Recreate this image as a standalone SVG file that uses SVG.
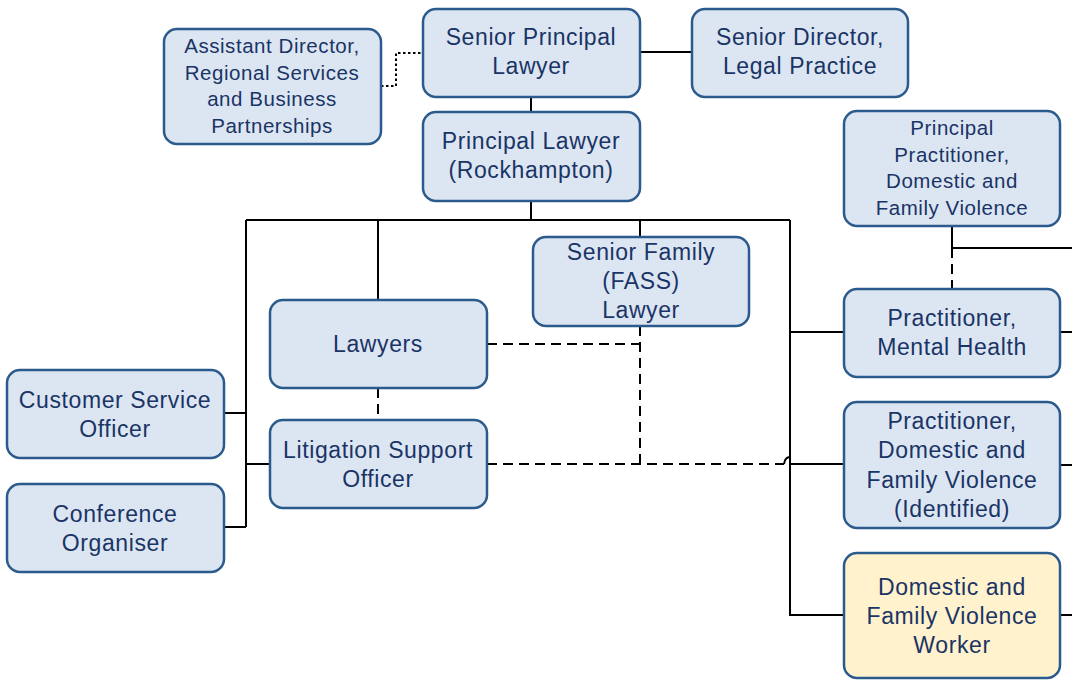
<svg xmlns="http://www.w3.org/2000/svg" width="1072" height="680" viewBox="0 0 1072 680">
<style>
.box{fill:#DCE6F2;stroke:#2B5A8C;stroke-width:2.5}
.yel{fill:#FFF2CC;stroke:#2B5A8C;stroke-width:2.5}
.t{font-family:"Liberation Sans",Arial,sans-serif;font-size:23px;letter-spacing:0.6px;fill:#1A3466;text-anchor:middle}
.s{font-size:20.5px;letter-spacing:0.55px}
.ln{fill:none;stroke:#000;stroke-width:2}
.da{fill:none;stroke:#000;stroke-width:2;stroke-dasharray:10,6}
.dt{fill:none;stroke:#000;stroke-width:2;stroke-dasharray:2.5,2.5}
</style>
<rect width="1072" height="680" fill="#fff"/>
<g id="connectors">
<path class="ln" d="M640,52H692"/>
<path class="dt" d="M381,86H396V53H423"/>
<path class="ln" d="M531,97V112M531,201V220M246,220H790M246,220V527M224,413H246M224,527H246M246,464H270M378,220V300M640,220V237M790,220V615H844M790,332H844M790,464H844"/>
<path class="da" d="M378,388V420M487,344H640M640,326V464M487,464H784"/>
<path class="ln" d="M784,464q1,-7 6,-7"/>
<path class="ln" d="M952,226V248H1072"/>
<path class="da" d="M952,248V289"/>
<path class="ln" d="M1060,332H1072M1060,465H1072M1060,615H1072"/>
</g>
<g id="assistant-director">
<rect class="box" x="164" y="29" width="217" height="115" rx="13"/>
<text class="t s" x="272" y="53">Assistant Director,</text>
<text class="t s" x="272" y="80">Regional Services</text>
<text class="t s" x="272" y="106">and Business</text>
<text class="t s" x="272" y="133">Partnerships</text>
</g>
<g id="senior-principal-lawyer">
<rect class="box" x="423" y="9" width="217" height="88" rx="13"/>
<text class="t" x="531" y="45">Senior Principal</text>
<text class="t" x="531" y="74">Lawyer</text>
</g>
<g id="senior-director">
<rect class="box" x="692" y="9" width="216" height="88" rx="13"/>
<text class="t" x="800" y="45">Senior Director,</text>
<text class="t" x="800" y="74">Legal Practice</text>
</g>
<g id="principal-lawyer">
<rect class="box" x="423" y="112" width="217" height="89" rx="13"/>
<text class="t" x="531" y="149">Principal Lawyer</text>
<text class="t" x="531" y="178">(Rockhampton)</text>
</g>
<g id="principal-practitioner">
<rect class="box" x="844" y="111" width="216" height="115" rx="13"/>
<text class="t s" x="952" y="135">Principal</text>
<text class="t s" x="952" y="162">Practitioner,</text>
<text class="t s" x="952" y="188">Domestic and</text>
<text class="t s" x="952" y="215">Family Violence</text>
</g>
<g id="senior-family-lawyer">
<rect class="box" x="533" y="237" width="216" height="89" rx="13"/>
<text class="t" x="641" y="260">Senior Family</text>
<text class="t" x="641" y="289">(FASS)</text>
<text class="t" x="641" y="318">Lawyer</text>
</g>
<g id="lawyers">
<rect class="box" x="270" y="300" width="217" height="88" rx="13"/>
<text class="t" x="378" y="352">Lawyers</text>
</g>
<g id="litigation-support-officer">
<rect class="box" x="270" y="420" width="217" height="88" rx="13"/>
<text class="t" x="378" y="458">Litigation Support</text>
<text class="t" x="378" y="487">Officer</text>
</g>
<g id="customer-service-officer">
<rect class="box" x="7" y="370" width="217" height="88" rx="13"/>
<text class="t" x="115" y="408">Customer Service</text>
<text class="t" x="115" y="437">Officer</text>
</g>
<g id="conference-organiser">
<rect class="box" x="7" y="484" width="217" height="88" rx="13"/>
<text class="t" x="115" y="522">Conference</text>
<text class="t" x="115" y="551">Organiser</text>
</g>
<g id="practitioner-mental-health">
<rect class="box" x="844" y="289" width="216" height="88" rx="13"/>
<text class="t" x="952" y="326">Practitioner,</text>
<text class="t" x="952" y="355">Mental Health</text>
</g>
<g id="practitioner-dfv-identified">
<rect class="box" x="844" y="402" width="216" height="126" rx="13"/>
<text class="t" x="952" y="429">Practitioner,</text>
<text class="t" x="952" y="458">Domestic and</text>
<text class="t" x="952" y="488">Family Violence</text>
<text class="t" x="952" y="517">(Identified)</text>
</g>
<g id="dfv-worker">
<rect class="yel" x="844" y="553" width="216" height="125" rx="13"/>
<text class="t" x="952" y="595">Domestic and</text>
<text class="t" x="952" y="624">Family Violence</text>
<text class="t" x="952" y="653">Worker</text>
</g>
</svg>
